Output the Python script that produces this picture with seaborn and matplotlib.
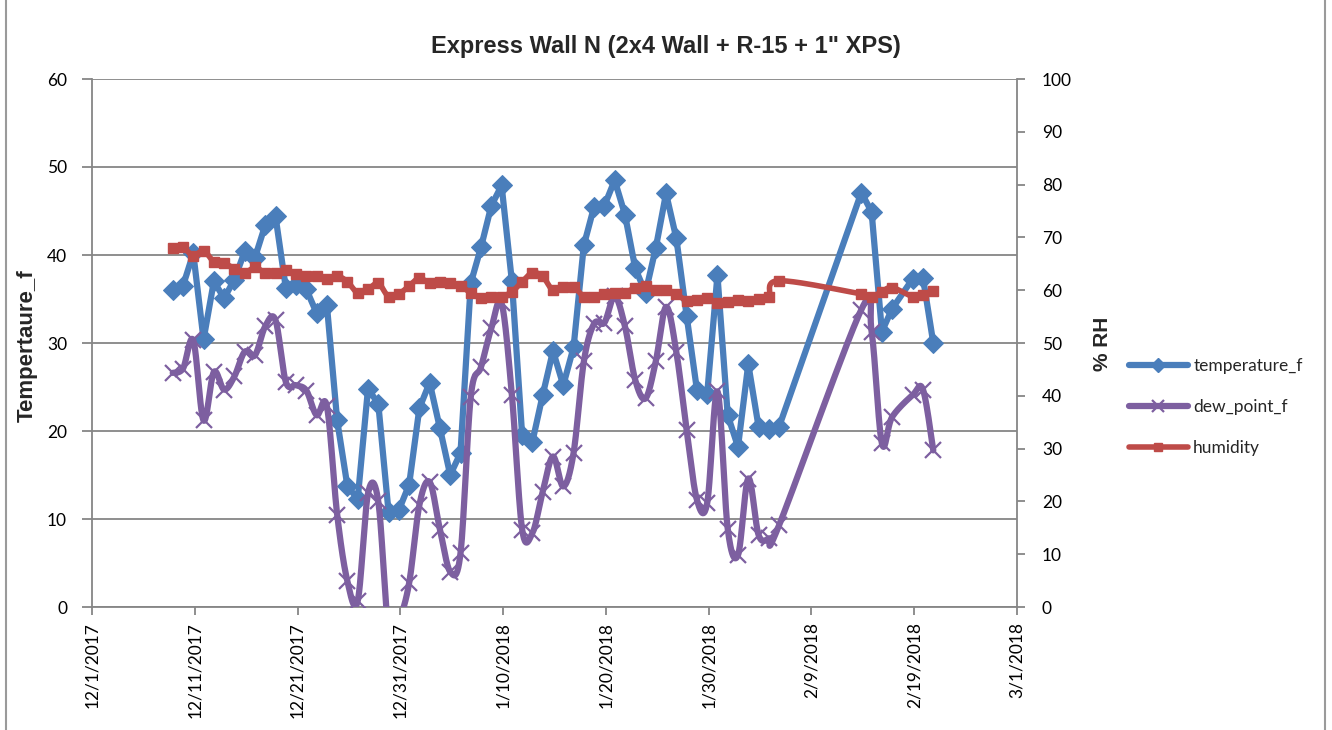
import numpy as np
import pandas as pd
import seaborn as sns
import matplotlib.pyplot as plt
import matplotlib.dates as mdates
from matplotlib.lines import Line2D

# --- data (one reading per evening, gaps in February) ---
dates = (list(pd.date_range('2017-12-08 20:30', '2018-02-05 20:30', freq='D'))
         + list(pd.date_range('2018-02-13 20:30', periods=4, freq='D'))
         + list(pd.date_range('2018-02-18 20:30', periods=3, freq='D')))

temperature_f = [
    36.0, 36.5, 40.2, 30.4, 37.0, 35.1, 37.2, 40.4, 39.7, 43.4,
    44.4, 36.3, 36.6, 36.1, 33.4, 34.3, 21.2, 13.7, 12.3, 24.8,
    23.1, 10.8, 11.0, 13.9, 22.6, 25.5, 20.3, 15.0, 17.5, 36.8,
    40.9, 45.6, 47.9, 37.0, 19.5, 18.8, 24.1, 29.1, 25.2, 29.5,
    41.1, 45.5, 45.6, 48.5, 44.6, 38.5, 35.7, 40.8, 47.0, 41.9,
    33.1, 24.7, 24.2, 37.7, 21.8, 18.2, 27.6, 20.5, 20.2, 20.5,
    47.1, 44.9, 31.3, 33.9,
    37.3, 37.4, 30.0,
]
dew_point_f = [
    26.6, 27.1, 30.3, 21.2, 26.7, 24.7, 26.2, 29.0, 28.6, 31.9,
    32.6, 25.6, 25.2, 24.6, 21.8, 22.8, 10.5, 2.9, 0.7, 12.9,
    12.0, -2.5, -1.5, 2.7, 11.6, 14.2, 8.8, 4.0, 6.1, 23.9,
    27.3, 31.7, 34.5, 24.1, 8.8, 8.4, 13.1, 17.1, 13.7, 17.5,
    27.9, 32.2, 32.3, 35.3, 31.9, 25.8, 23.7, 27.9, 34.1, 29.0,
    20.1, 12.2, 11.8, 24.5, 8.9, 5.9, 14.6, 8.2, 7.8, 9.3,
    33.8, 31.3, 18.6, 21.6,
    24.1, 24.7, 17.8,
]
humidity = [
    67.9, 68.1, 66.5, 67.5, 65.4, 65.1, 64.1, 63.3, 64.3, 63.3,
    63.2, 63.8, 63.1, 62.7, 62.7, 62.1, 62.7, 61.6, 59.5, 60.2,
    61.3, 58.8, 59.3, 60.8, 62.3, 61.3, 61.6, 61.4, 60.8, 59.5,
    58.5, 58.8, 58.8, 59.7, 61.6, 63.3, 62.6, 60.0, 60.7, 60.7,
    58.8, 58.8, 59.3, 59.4, 59.5, 60.5, 60.8, 60.0, 60.0, 59.3,
    58.0, 58.2, 58.5, 57.5, 57.7, 58.1, 58.0, 58.3, 58.8, 61.8,
    59.3, 58.8, 59.7, 60.5,
    58.8, 59.1, 59.9,
]

tick_dates = pd.date_range('2017-12-01', '2018-03-01', freq='10D')

df = pd.DataFrame({'date': mdates.date2num(dates),
                   'temperature_f': temperature_f,
                   'dew_point_f': dew_point_f,
                   'humidity': humidity})

BLUE = '#4A7EBB'
PURPLE = '#7D5FA0'
RED = '#BE4B48'
GREY = '#868686'
BOLD_FONT = ['Liberation Sans', 'DejaVu Sans']


def smooth(x, y, steps=24):
    # Excel style smoothed line: cubic bezier through the points
    p = np.column_stack([x, y])
    t = np.linspace(0, 1, steps)[:, None]
    out = []
    for i in range(len(p) - 1):
        p0 = p[max(i - 1, 0)]
        p1 = p[i]
        p2 = p[i + 1]
        p3 = p[min(i + 2, len(p) - 1)]
        c1 = p1 + (p2 - p0) / 6
        c2 = p2 - (p3 - p1) / 6
        seg = ((1 - t) ** 3 * p1 + 3 * (1 - t) ** 2 * t * c1
               + 3 * (1 - t) * t ** 2 * c2 + t ** 3 * p2)
        out.append(seg if i == 0 else seg[1:])
    out = np.vstack(out)
    return out[:, 0], out[:, 1]


sns.set_theme(style="white")
plt.rcParams['font.family'] = ['Lato', 'DejaVu Sans']

fig = plt.figure(figsize=(13.32, 7.30), dpi=100)
ax = fig.add_axes([92 / 1332, 1 - 607 / 730, 925 / 1332, 528 / 730])
ax2 = ax.twinx()

# temperature: straight segments with diamonds
sns.lineplot(data=df, x='date', y='temperature_f', ax=ax, color=BLUE, lw=4.5,
             marker='D', markersize=10, markeredgecolor=BLUE, estimator=None,
             sort=False, zorder=3, legend=False)

# dew point: smoothed line with crosses
sx, sy = smooth(df['date'].values, df['dew_point_f'].values)
ax.plot(sx, sy, color=PURPLE, lw=4.5, zorder=4, solid_capstyle='round')
ax.plot(df['date'], df['dew_point_f'], ls='none', marker='x', markersize=12,
        mew=1.6, color=PURPLE, zorder=5)

# humidity on the secondary axis: smoothed with squares
hx, hy = smooth(df['date'].values, df['humidity'].values)
ax2.plot(hx, hy, color=RED, lw=4, zorder=3)
ax2.plot(df['date'], df['humidity'], ls='none', marker='s', markersize=6.5,
         color=RED, zorder=4)

ax.set_xlim(mdates.date2num(tick_dates[0]), mdates.date2num(tick_dates[-1]))
ax.set_ylim(0, 60)
ax2.set_ylim(0, 100)
ax.set_yticks(range(0, 61, 10))
ax2.set_yticks(range(0, 101, 10))
ax.set_xticks(mdates.date2num(tick_dates))
ax.set_xticklabels([f'{d.month}/{d.day}/{d.year}' for d in tick_dates],
                   rotation=90, ha='center', va='top')

ax.yaxis.grid(True, color=GREY, lw=1.3)
ax.xaxis.grid(False)
ax.set_axisbelow(True)

for a in (ax, ax2):
    for s in a.spines.values():
        s.set_visible(False)
ax.spines['left'].set_visible(True)
ax.spines['bottom'].set_visible(True)
ax2.spines['right'].set_visible(True)
for s in (ax.spines['left'], ax.spines['bottom'], ax2.spines['right']):
    s.set_color(GREY)
    s.set_linewidth(1.3)

ax.tick_params(axis='y', left=True, direction='out', length=7, width=1.3,
               color=GREY, pad=11, labelsize=12.5, labelcolor='black')
ax.tick_params(axis='x', bottom=True, direction='out', length=6, width=1.3,
               color=GREY, pad=5, labelsize=12.5, labelcolor='black')
ax2.tick_params(axis='y', right=True, direction='out', length=6, width=1.3,
                color=GREY, pad=12, labelsize=12.5, labelcolor='black')
ax.set_xlabel('')
ax.set_ylabel('')
ax2.set_ylabel('')

fig.text(0.5, 1 - 47 / 730, 'Express Wall N (2x4 Wall + R-15 + 1" XPS)',
         ha='center', va='center', fontsize=17, fontweight='bold',
         family=BOLD_FONT)
fig.text(27 / 1332, 1 - 346 / 730, 'Tempertaure_f', rotation=90,
         ha='center', va='center', fontsize=16, fontweight='bold',
         family=BOLD_FONT)
fig.text(1103 / 1332, 1 - 344 / 730, '% RH', rotation=90,
         ha='center', va='center', fontsize=15, fontweight='bold',
         family=BOLD_FONT)

handles = [
    Line2D([], [], color=BLUE, lw=4.5, marker='D', markersize=7),
    Line2D([], [], color=PURPLE, lw=4.5, marker='x', markersize=8, mew=1.6),
    Line2D([], [], color=RED, lw=4, marker='s', markersize=6),
]
fig.legend(handles, ['temperature_f', 'dew_point_f', 'humidity'],
           loc='center left', bbox_to_anchor=(1122 / 1332, 1 - 407 / 730),
           frameon=False, fontsize=12.5, handlelength=3.4, handletextpad=0.3,
           labelspacing=1.45, numpoints=1, borderaxespad=0)

# outer chart border
for xb in (6 / 1332, 1325 / 1332):
    fig.add_artist(Line2D([xb, xb], [0, 1], transform=fig.transFigure,
                          color='#9a9a9a', lw=1.5))

fig.savefig('out.png', dpi=100)
